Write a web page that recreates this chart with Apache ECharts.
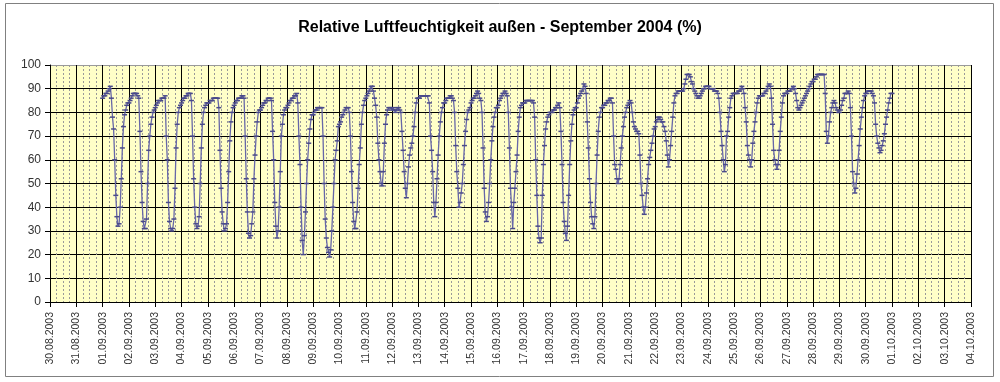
<!DOCTYPE html>
<html>
<head>
<meta charset="utf-8">
<script src="https://cdn.jsdelivr.net/npm/echarts@6/dist/echarts.min.js"></script>
<style>
html,body{margin:0;padding:0;background:#fff;}
#chart{width:1000px;height:382px;}
</style>
</head>
<body>
<div id="chart"></div>
<script>
// Tick labels of the x axis (one per day, 30.08.2003 .. 04.10.2003)
const dayLabels = ['30.08.2003','31.08.2003','01.09.2003','02.09.2003','03.09.2003','04.09.2003','05.09.2003','06.09.2003','07.09.2003','08.09.2003','09.09.2003','10.09.2003','11.09.2003','12.09.2003','13.09.2003','14.09.2003','15.09.2003','16.09.2003','17.09.2003','18.09.2003','19.09.2003','20.09.2003','21.09.2003','22.09.2003','23.09.2003','24.09.2003','25.09.2003','26.09.2003','27.09.2003','28.09.2003','29.09.2003','30.09.2003','01.10.2003','02.10.2003','03.10.2003','04.10.2003'];
const yTicks = [0,10,20,30,40,50,60,70,80,90,100];

// Relative humidity (%), hourly readings 00:00..23:00 per day
const sep01 = [86,87,87,88,88,89,90,91,86,78,73,60,45,36,32,33,40,52,65,74,79,81,83,84];
const sep02 = [84,85,86,87,88,88,88,88,87,86,72,55,42,34,31,31,35,50,64,70,75,78,80,81];
const sep03 = [82,83,84,85,85,85,86,86,86,87,70,60,42,34,31,30,31,35,48,65,75,80,82,83];
const sep04 = [84,85,86,86,87,87,88,88,88,85,70,52,40,33,31,32,36,50,65,75,80,82,83,84];
const sep05 = [84,84,85,85,85,86,86,86,86,86,82,64,48,38,33,30,31,33,42,55,68,76,80,82];
const sep06 = [83,84,85,85,86,86,86,87,87,86,70,52,38,29,27,28,33,38,52,62,70,76,80,81];
const sep07 = [81,82,83,84,84,85,85,86,86,86,85,72,60,42,32,27,30,40,55,70,75,79,81,82];
const sep08 = [82,83,84,85,85,86,86,87,87,88,84,70,58,40,26,20,28,38,50,60,67,73,77,79];
const sep09 = [79,80,81,81,82,82,82,82,82,70,50,35,27,23,21,19,22,30,40,50,60,64,68,74];
const sep10 = [75,76,78,79,80,81,82,82,82,80,70,55,42,34,31,31,38,48,58,65,75,80,83,85];
const sep11 = [86,87,88,89,90,91,91,89,86,83,78,67,60,55,50,49,55,67,75,79,81,82,82,82];
const sep12 = [81,82,81,80,81,82,82,81,80,72,64,55,48,44,50,57,62,65,67,70,74,80,84,86];
const sep13 = [86,86,87,87,87,87,87,87,87,87,84,70,64,55,42,36,42,52,62,70,76,80,82,84];
const sep14 = [84,85,86,86,86,87,87,86,85,80,66,55,48,40,42,46,50,58,66,72,77,80,81,82];
const sep15 = [84,85,86,86,87,88,89,88,86,85,80,65,48,38,34,36,42,50,60,68,74,78,80,82];
const sep16 = [82,83,85,86,87,88,88,89,88,87,80,65,48,40,31,42,48,55,62,72,78,82,83,84];
const sep17 = [84,84,85,85,85,85,85,85,85,84,78,60,45,32,27,25,27,45,58,66,73,76,78,79];
const sep18 = [80,80,80,81,81,82,82,83,84,82,72,58,42,34,29,26,32,45,58,68,75,79,81,82];
const sep19 = [82,84,86,87,88,89,90,92,91,88,76,65,52,42,36,33,31,36,50,62,72,78,80,82];
const sep20 = [82,83,83,84,84,85,85,86,86,84,70,58,56,52,50,52,58,65,70,74,78,80,82,83];
const sep21 = [84,85,84,80,76,74,73,72,72,71,62,50,45,40,37,40,46,52,58,61,64,67,70,73];
const sep22 = [74,76,77,78,78,77,76,76,74,72,68,62,57,60,66,72,78,84,87,88,88,89,89,89];
const sep23 = [89,89,90,92,94,96,96,96,95,93,92,90,89,88,87,86,86,87,88,89,90,90,91,91];
const sep24 = [91,91,90,90,90,90,89,89,89,88,86,80,72,66,60,55,58,70,72,78,82,86,87,88];
const sep25 = [88,88,88,88,89,89,90,91,90,88,82,76,66,62,60,57,60,67,72,76,80,84,86,87];
const sep26 = [87,87,87,88,88,89,90,91,92,91,86,75,64,60,58,56,58,64,72,78,84,87,88,88];
const sep27 = [88,89,89,89,90,90,91,90,88,85,82,81,82,83,84,85,86,87,88,89,90,91,92,93];
const sep28 = [93,94,94,95,96,96,96,96,96,96,96,88,72,67,70,76,80,82,84,85,84,82,81,80];
const sep29 = [80,81,83,85,86,88,88,88,89,88,82,70,55,50,46,48,54,60,66,73,78,82,85,87];
const sep30 = [88,88,89,89,89,89,88,87,84,75,70,67,65,63,64,66,68,71,75,78,81,84,86,88];
const oct01Midnight = 88;

const septemberDays = [sep01,sep02,sep03,sep04,sep05,sep06,sep07,sep08,sep09,sep10,
  sep11,sep12,sep13,sep14,sep15,sep16,sep17,sep18,sep19,sep20,
  sep21,sep22,sep23,sep24,sep25,sep26,sep27,sep28,sep29,sep30];
const firstDayPos = dayLabels.indexOf('01.09.2003');

const seriesData = [];
septemberDays.forEach((arr, d) => {
  arr.forEach((v, h) => seriesData.push([firstDayPos + d + h / 24, v]));
});
seriesData.push([firstDayPos + septemberDays.length, oct01Midnight]);

const yLineColors = yTicks.map(t => t === 100 ? '#9a9a9a' : '#000000');

const chart = echarts.init(document.getElementById('chart'), null, {renderer: 'canvas'});
chart.setOption({
  animation: false,
  backgroundColor: '#ffffff',
  title: {
    text: 'Relative Luftfeuchtigkeit außen - September 2004 (%)',
    left: 'center',
    top: 15,
    textStyle: {fontFamily: 'Liberation Sans, Arial, sans-serif', fontSize: 16, fontWeight: 'bold', color: '#000'}
  },
  graphic: [{
    type: 'rect',
    shape: {x: 5.5, y: 3.5, width: 988, height: 373},
    style: {fill: 'none', stroke: '#808080', lineWidth: 1},
    silent: true
  }],
  grid: {left: 50, right: 29, top: 65, bottom: 80, show: true, backgroundColor: '#FFFFC8', borderWidth: 0},
  xAxis: {
    type: 'value',
    min: 0,
    max: dayLabels.length - 1,
    interval: 1,
    axisLine: {show: true, onZero: false, lineStyle: {color: '#000', width: 1}},
    axisTick: {show: true, inside: false, length: 5, lineStyle: {color: '#000'}},
    minorTick: {show: false, splitNumber: 4},
    minorSplitLine: {show: true, lineStyle: {color: '#999999', width: 1, type: [2, 2]}},
    splitLine: {show: true, lineStyle: {color: '#000', width: 1}},
    axisLabel: {
      rotate: 90,
      margin: 10,
      fontFamily: 'Liberation Sans, Arial, sans-serif',
      fontSize: 10.5,
      color: '#333',
      formatter: v => dayLabels[Math.round(v)] || ''
    }
  },
  yAxis: {
    type: 'value',
    min: 0,
    max: 100,
    interval: 10,
    axisLine: {show: true, lineStyle: {color: '#000', width: 1}},
    axisTick: {show: true, inside: false, length: 5, lineStyle: {color: '#000'}},
    splitLine: {show: true, lineStyle: {color: yLineColors, width: 1}},
    axisLabel: {
      margin: 9,
      fontFamily: 'Liberation Sans, Arial, sans-serif',
      fontSize: 12,
      color: '#333'
    }
  },
  series: [{
    type: 'line',
    data: seriesData,
    showSymbol: true,
    symbol: 'rect',
    symbolSize: [5, 1.5],
    itemStyle: {color: '#4a4a8a'},
    lineStyle: {color: '#6666a8', width: 1.3},
    z: 5
  }]
});
</script>
</body>
</html>
